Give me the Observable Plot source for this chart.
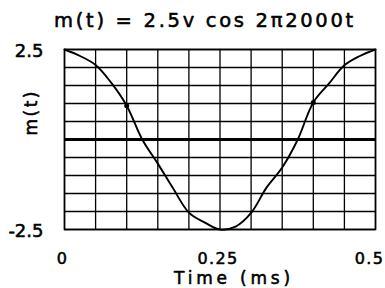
<!DOCTYPE html>
<html><head><meta charset="utf-8">
<script src="https://cdn.jsdelivr.net/npm/d3@7"></script>
<script src="https://cdn.jsdelivr.net/npm/@observablehq/plot@0.6"></script>
<style>
html,body{margin:0;padding:0;background:#fff;}
</style>
</head><body><div id="chart"></div>
<script>
const title = "m(t) = 2.5v cos 2\u03c02000t";
const xLabel = "Time (ms)";
const yLabel = "m(t)";
// curve samples (time in ms, amplitude in V)
const times = [0, 0.025, 0.05, 0.075, 0.1, 0.125, 0.15, 0.175, 0.2, 0.225, 0.25, 0.275, 0.3, 0.325, 0.35, 0.375, 0.4, 0.425, 0.45, 0.475, 0.5];
const values = [2.5, 2.32, 2.07, 1.58, 0.94, 0.0, -0.67, -1.37, -2.03, -2.3, -2.5, -2.42, -2.04, -1.33, -0.78, 0.0, 1.03, 1.55, 2.06, 2.32, 2.5];
const dotTimes = [0.1, 0.4];
const dotValues = [0.94, 1.03];
const xTicks = [0, 0.25];
const xTickLabels = ["0", "0.25"];
const xLastTick = [0.5];
const xLastTickLabel = ["0.5"];
const yTicks = [2.5, -2.5];
const yTickLabels = ["2.5", "-2.5"];
const xGrid = [0, 0.05, 0.1, 0.15, 0.2, 0.25, 0.3, 0.35, 0.4, 0.45, 0.5];
const yGrid = [-2.5, -2, -1.5, -1, -0.5, 0, 0.5, 1, 1.5, 2, 2.5];

const curve = times.map((t, i) => ({t, v: values[i]}));
const dots = dotTimes.map((t, i) => ({t, v: dotValues[i]}));
const xt = xTicks.map((x, i) => ({x, label: xTickLabels[i]}));
const xl = xLastTick.map((x, i) => ({x, label: xLastTickLabel[i]}));
const yt = yTicks.map((y, i) => ({y, label: yTickLabels[i]}));

const font = "DejaVu Sans, Verdana, sans-serif";
const ink = {fill: "#000", stroke: "#000", strokeWidth: 0.55};
const plot = Plot.plot({
  width: 385, height: 288,
  marginLeft: 64, marginRight: 10, marginTop: 49, marginBottom: 59,
  style: {fontFamily: font, fontSize: "17px", color: "#000", background: "#fff"},
  x: {domain: [0, 0.5], axis: null},
  y: {domain: [-2.5, 2.5], axis: null},
  marks: [
    Plot.gridX(xGrid, {stroke: "#000", strokeOpacity: 1, strokeWidth: 1.3}),
    Plot.gridY(yGrid, {stroke: "#000", strokeOpacity: 1, strokeWidth: 1.3}),
    Plot.ruleY([0], {stroke: "#000", strokeWidth: 3.2}),
    Plot.frame({stroke: "#000", strokeWidth: 1.6}),
    Plot.line(curve, {x: "t", y: "v", stroke: "#000", strokeWidth: 1.9, curve: "catmull-rom"}),
    Plot.dot(dots, {x: "t", y: "v", r: 2.5, fill: "#000"}),
    Plot.text(xt, {x: "x", text: "label", frameAnchor: "bottom", lineAnchor: "middle", dy: 29, dx: -2, fontSize: 16, ...ink}),
    Plot.text(xl, {x: "x", text: "label", frameAnchor: "bottom", lineAnchor: "middle", dy: 29, dx: -6, fontSize: 16, ...ink}),
    Plot.text(yt, {y: "y", text: "label", frameAnchor: "left", textAnchor: "end", lineAnchor: "middle", dx: -21, dy: 2, fontSize: 18, ...ink}),
    Plot.text([yLabel], {frameAnchor: "left", lineAnchor: "middle", dx: -33, dy: -4, rotate: -90, fontSize: 17, ...ink}),
    Plot.text([xLabel], {frameAnchor: "bottom", lineAnchor: "middle", dy: 49.5, dx: 14, fontSize: 17, ...ink}),
    Plot.text([title], {frameAnchor: "top", lineAnchor: "middle", dy: -29, dx: -15, fontSize: 19.5, ...ink})
  ]
});
// letter spacing to match the wide lettering of the reference
const texts = plot.querySelectorAll("text");
texts.forEach(t => {
  const s = t.textContent;
  if (s === title) t.setAttribute("letter-spacing", "2.7");
  else if (s === xLabel) t.setAttribute("letter-spacing", "3.8");
  else if (s === yLabel) t.setAttribute("letter-spacing", "2.5");
  else if (xTickLabels.includes(s) || xLastTickLabel.includes(s)) t.setAttribute("letter-spacing", "1.3");
});
document.getElementById("chart").appendChild(plot);
</script>
</body></html>
